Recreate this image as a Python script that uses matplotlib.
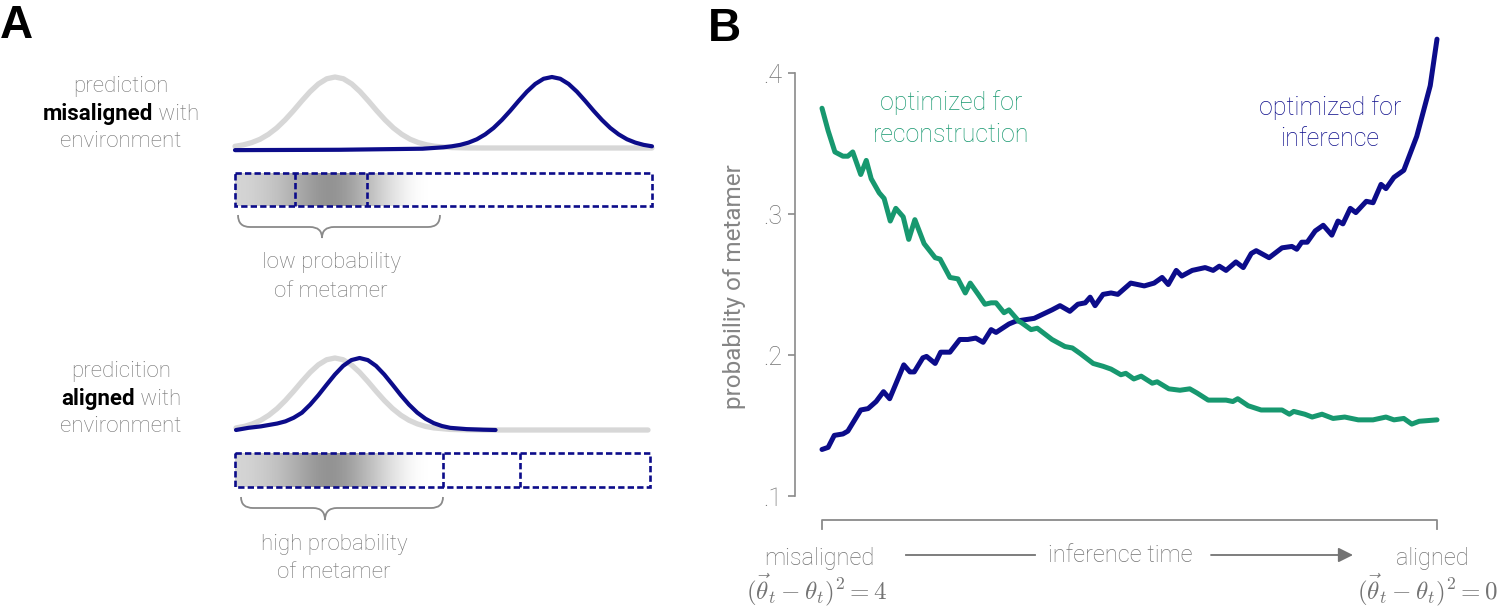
import numpy as np
import matplotlib

matplotlib.use("Agg")
import matplotlib.pyplot as plt
from matplotlib.path import Path
from matplotlib.patches import PathPatch, Rectangle

W, H = 1500, 608

NAVY = "#0c0c8a"
GREEN = "#17986f"
LIGHT = "#d7d7d7"
GRAY = "#737373"

# ---- panel B: probability of metamer along inference time (0 = misaligned, 100 = aligned)
inf_t = [0, 1, 2, 3.4, 4.2, 6.3, 7.5, 8.8, 10, 11, 13.3, 14.3, 15, 16.4, 17,
         18.4, 19.3, 20.8, 22.4, 23.7, 25, 26.2, 27.5, 28.3, 30.4, 31.5, 34.5,
         37.4, 38.7, 40.3, 41.6, 42.8, 43.6, 44.4, 45.7, 47, 48.1, 50.2, 52.4,
         54, 55.3, 56.3, 57.6, 58.5, 60.2, 62.3, 63.6, 64.6, 65.7, 67.3, 68.5,
         69.8, 70.6, 72.7, 74.8, 76.4, 77.2, 78, 78.9, 80.2, 81.5, 82.9, 83.9,
         84.7, 85.9, 86.8, 88.5, 89.6, 90.9, 91.7, 93, 94.6, 96.7, 98.9, 100]
inf_p = [0.133, 0.1345, 0.143, 0.144, 0.146, 0.161, 0.162, 0.167, 0.174, 0.169,
         0.193, 0.188, 0.188, 0.198, 0.199, 0.194, 0.202, 0.202, 0.211, 0.211,
         0.212, 0.209, 0.218, 0.216, 0.222, 0.224, 0.226, 0.232, 0.235, 0.231,
         0.236, 0.237, 0.241, 0.235, 0.243, 0.244, 0.243, 0.251, 0.249, 0.251,
         0.255, 0.250, 0.260, 0.256, 0.260, 0.262, 0.260, 0.263, 0.260, 0.266,
         0.262, 0.272, 0.274, 0.269, 0.276, 0.277, 0.275, 0.280, 0.280, 0.288,
         0.292, 0.285, 0.295, 0.293, 0.304, 0.301, 0.309, 0.308, 0.321, 0.318,
         0.326, 0.331, 0.355, 0.391, 0.424]

rec_t = [0, 1, 2.1, 3.4, 4.2, 5, 6.3, 7.2, 8, 9.3, 10.1, 11.1, 12, 13.2, 14.1,
         15.1, 16.6, 18.4, 19.2, 20.8, 22.1, 23.3, 24.1, 25.4, 26.5, 27.5, 28.3,
         29.6, 30.4, 32.0, 32.4, 34.0, 35.0, 37.4, 39.5, 40.7, 42.0, 44.1, 45.7,
         47.0, 48.6, 49.4, 50.7, 51.9, 53.7, 54.5, 56.4, 58.2, 59.8, 61.0, 62.8,
         65.7, 66.8, 67.6, 69.3, 71.4, 74.8, 76.0, 76.7, 78.5, 79.7, 81.3, 83.1,
         85.0, 87.2, 89.6, 91.7, 93.0, 94.6, 95.9, 97.1, 100]
rec_p = [0.375, 0.359, 0.344, 0.341, 0.341, 0.344, 0.328, 0.338, 0.325, 0.315,
         0.311, 0.295, 0.304, 0.298, 0.282, 0.296, 0.279, 0.269, 0.268, 0.255,
         0.254, 0.244, 0.251, 0.243, 0.236, 0.237, 0.237, 0.230, 0.232, 0.224,
         0.223, 0.218, 0.219, 0.211, 0.206, 0.205, 0.201, 0.194, 0.192, 0.190,
         0.186, 0.187, 0.183, 0.185, 0.180, 0.181, 0.176, 0.175, 0.176, 0.173,
         0.168, 0.168, 0.167, 0.169, 0.164, 0.161, 0.161, 0.158, 0.160, 0.158,
         0.156, 0.158, 0.155, 0.156, 0.154, 0.154, 0.156, 0.154, 0.155, 0.151,
         0.153, 0.154]

ytick_vals = [0.1, 0.2, 0.3, 0.4]
ytick_labels = [".1", ".2", ".3", ".4"]

# ---- panel A: environment (gray) vs prediction (navy) densities, schematic
top_env_x = [0, .02, .04, .06, .08, .10, .12, .14, .16, .18, .20, .22, .24, .26,
             .28, .30, .32, .34, .36, .38, .40, .42, .44, .46, .48, .52, .56, .60, 1.0]
top_env_y = [.024, .044, .076, .123, .192, .282, .395, .524, .662, .793, .902, .975,
             1, .975, .902, .793, .662, .524, .395, .282, .192, .123, .076, .044,
             .024, .006, .001, 0, 0]
top_pred_x = [0, .25, .45, .50, .52, .54, .56, .58, .60, .62, .64, .66, .68, .70,
              .72, .74, .76, .78, .80, .82, .84, .86, .88, .90, .92, .94, .96, .98, 1.0]
top_pred_y = [-.03, -.025, -.01, .01, .024, .044, .076, .123, .192, .282, .395,
              .524, .662, .793, .902, .975, 1, .975, .902, .793, .662, .524, .395,
              .282, .192, .123, .076, .044, .024]

bot_env_x = top_env_x
bot_env_y = [.029, .050, .085, .135, .206, .298, .411, .539, .674, .801, .906, .976,
             1, .976, .906, .801, .674, .539, .411, .298, .206, .135, .085, .050,
             .029, .008, .002, 0, 0]
bot_pred_x = [0, .03, .06, .08, .10, .12, .14, .16, .18, .20, .22, .24, .26, .28,
              .30, .32, .34, .36, .38, .40, .42, .44, .46, .48, .50, .52, .56, .60, .63]
bot_pred_y = [0, .03, .05, .07, .09, .12, .17, .24, .352, .484, .629, .770, .890,
              .971, 1, .971, .890, .770, .629, .484, .352, .241, .156, .095, .055,
              .030, .012, .004, 0]

# darkness of the gray shading inside the boxes (left to right)
shade = [0.3, 0.36, 0.45, 0.58, 0.72, 0.8, 0.68, 0.5, 0.3, 0.12, 0.0]

plt.rcParams["font.family"] = ["Roboto", "DejaVu Sans"]
plt.rcParams["mathtext.fontset"] = "cm"

fig = plt.figure(figsize=(W / 100, H / 100), dpi=100)


def px_axes(x0, y0, x1, y1):
    ax = fig.add_axes([x0 / W, 1 - y1 / H, (x1 - x0) / W, (y1 - y0) / H])
    ax.patch.set_alpha(0)
    return ax


# overlay in pixel units for the schematic parts and annotations
ov = fig.add_axes([0, 0, 1, 1])
ov.patch.set_alpha(0)
ov.axis("off")


def brace(x0, x1, xm, yt, yb, yp, r=12):
    verts = [(x0, yt), (x0, yb), (x0 + r, yb), (xm - r, yb), (xm, yb), (xm, yp),
             (xm, yb), (xm + r, yb), (x1 - r, yb), (x1, yb), (x1, yt)]
    codes = [Path.MOVETO, Path.CURVE3, Path.CURVE3, Path.LINETO, Path.CURVE3, Path.CURVE3,
             Path.CURVE3, Path.CURVE3, Path.LINETO, Path.CURVE3, Path.CURVE3]
    ov.add_patch(PathPatch(Path(verts, codes), fill=False, ec="#8a8a8a", lw=1.3))


def shaded_box(x0, x1, y0, y1, gx1, dividers):
    prof = np.array(shade)
    rgba = np.ones((1, len(prof), 4))
    rgba[0, :, :3] = 0.45
    rgba[0, :, 3] = prof
    ov.imshow(rgba, extent=(x0, gx1, y1, y0), interpolation="bicubic", aspect="auto", zorder=1)
    dash = (0, (2.4, 1.2))
    ov.add_patch(Rectangle((x0, y0), x1 - x0, y1 - y0, fill=False, ec=NAVY, lw=1.9,
                           ls=dash, zorder=3))
    for d in dividers:
        ov.plot([d, d], [y0, y1], color=NAVY, lw=1.9, ls=dash, zorder=3)


shaded_box(235, 652, 173, 206, 428, [295, 367])
shaded_box(235, 650, 453, 487, 428, [443, 520])
brace(238, 440, 322, 215, 227, 238)
brace(241, 443, 325, 497, 508, 520)

ov.set_xlim(0, W)
ov.set_ylim(H, 0)

# density curves
ax_top = px_axes(235, 77, 652, 148)
ax_top.plot(top_env_x, top_env_y, color=LIGHT, lw=3.8, clip_on=False, solid_capstyle="round")
ax_top.plot(top_pred_x, top_pred_y, color=NAVY, lw=3.0, clip_on=False, solid_capstyle="round")
ax_bot = px_axes(236, 358, 648, 430)
ax_bot.plot(bot_env_x, bot_env_y, color=LIGHT, lw=3.8, clip_on=False, solid_capstyle="round")
ax_bot.plot(bot_pred_x, bot_pred_y, color=NAVY, lw=3.0, clip_on=False, solid_capstyle="round")
for a in (ax_top, ax_bot):
    a.set_xlim(0, 1)
    a.set_ylim(0, 1)
    a.axis("off")

# panel A text
fsA = 16
renderer = fig.canvas.get_renderer()


def two_part(cx, y, bold_txt, rest_txt):
    t1 = ov.text(0, y, bold_txt, fontsize=fsA, weight="bold", color="black", va="baseline")
    t2 = ov.text(0, y, "\u00a0" + rest_txt, fontsize=fsA, weight="light", color=GRAY, va="baseline")
    w1 = t1.get_window_extent(renderer).width
    w2 = t2.get_window_extent(renderer).width
    t1.set_x(cx - (w1 + w2) / 2)
    t2.set_x(cx - (w1 + w2) / 2 + w1)


def light(x, y, s, size=fsA, color=GRAY, ha="center"):
    ov.text(x, y, s, fontsize=size, weight="light", color=color, ha=ha, va="baseline")


light(121, 92, "prediction")
two_part(121, 120, "misaligned", "with")
light(121, 147, "environment")
light(121, 377, "predicition")
two_part(121, 405, "aligned", "with")
light(121, 432, "environment")
light(331, 268, "low probability")
light(331, 297, "of metamer")
light(334, 550, "high probability")
light(334, 578, "of metamer")

ov.text(0, 38, "A", fontsize=33, weight="bold", family="Liberation Sans", va="baseline")
ov.text(708, 41, "B", fontsize=33, weight="bold", family="Liberation Sans", va="baseline")

# ---- panel B
ax = px_axes(822, 73, 1437, 496)
ax.plot(inf_t, inf_p, color=NAVY, lw=3.6, clip_on=False, solid_joinstyle="round",
        solid_capstyle="round")
ax.plot(rec_t, rec_p, color=GREEN, lw=3.6, clip_on=False, solid_joinstyle="round",
        solid_capstyle="round")
ax.set_xlim(0, 100)
ax.set_ylim(0.1, 0.4)
for s in ("top", "right", "bottom"):
    ax.spines[s].set_visible(False)
ax.spines["left"].set_position(("outward", 19.4))
ax.spines["left"].set_color("#8a8a8a")
ax.spines["left"].set_linewidth(1.2)
ax.set_xticks([])
ax.set_yticks(ytick_vals)
ax.set_yticklabels(ytick_labels, fontsize=18, fontweight="light", color=GRAY)
ax.tick_params(axis="y", direction="out", length=5, width=1.2, color="#8a8a8a", pad=4)

# bracket under the x range
ax.plot([0, 0, 100, 100], [0.0765, 0.083, 0.083, 0.0765], color="#8a8a8a", lw=1.3,
        clip_on=False)

ov.text(735, 287, "probability of metamer", rotation=90, fontsize=17.5, color="#858585",
        ha="center", va="center")

light(951, 110, "optimized for", size=18, color=GREEN)
light(951, 142, "reconstruction", size=18, color=GREEN)
light(1330, 115, "optimized for", size=18, color=NAVY)
light(1330, 146, "inference", size=18, color=NAVY)

light(819, 565, "misaligned", size=17)
light(1432, 565, "aligned", size=17)
light(1120, 562, "inference time", size=17)
ov.text(817, 590, r"$(\vec{\theta}_t - \theta_t)^2 = 4$", fontsize=18, color=GRAY,
        ha="center", va="center")
ov.text(1498, 590, r"$(\vec{\theta}_t - \theta_t)^2 = 0$", fontsize=18, color=GRAY,
        ha="right", va="center")
ov.plot([906, 1035], [555, 555], color=GRAY, lw=1.3)
ov.annotate("", xy=(1353, 555), xytext=(1211, 555),
            arrowprops=dict(arrowstyle="-|>", color=GRAY, lw=1.3, mutation_scale=22,
                            shrinkA=0, shrinkB=0))

fig.savefig("out.png", dpi=100)
